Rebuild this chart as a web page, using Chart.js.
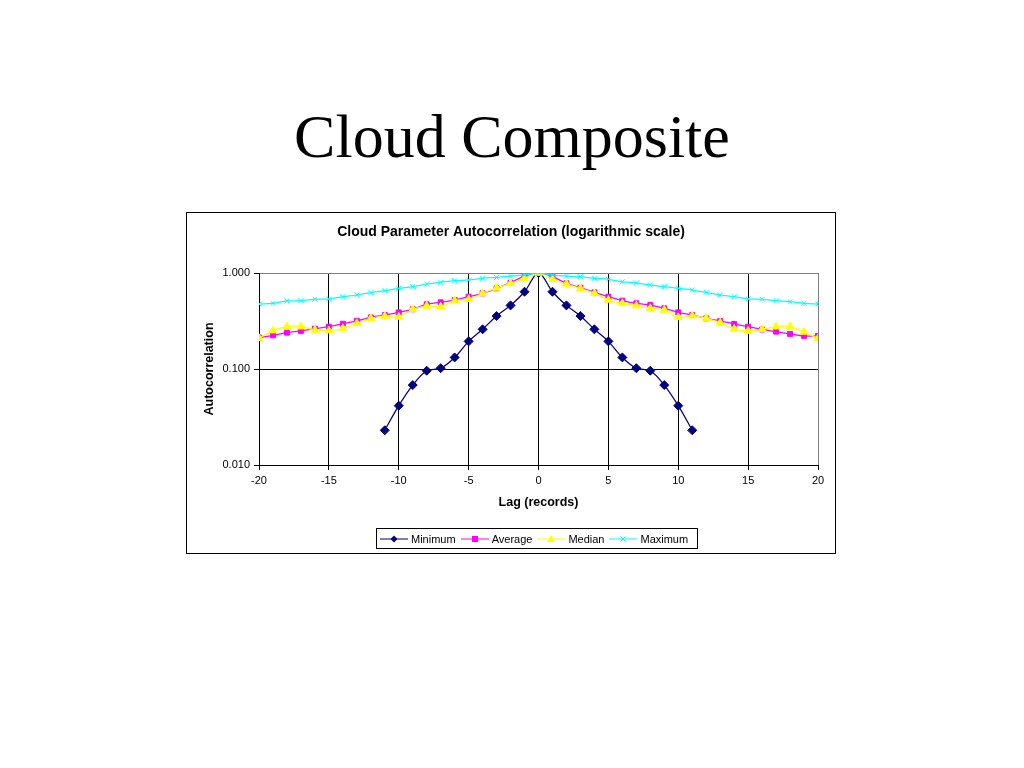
<!DOCTYPE html>
<html>
<head>
<meta charset="utf-8">
<script src="https://cdn.jsdelivr.net/npm/chart.js@4.4.1/dist/chart.umd.min.js"></script>
<style>
  body { margin: 0; background: #fff; width: 1024px; height: 768px; position: relative; overflow: hidden; }
  #pageTitle { position: absolute; left: 0; top: 105px; width: 1024px; text-align: center;
    font-family: "Liberation Serif", "Times New Roman", serif; font-size: 62px; line-height: 62px; color: #000; }
  #chartBox { position: absolute; left: 186px; top: 212px; width: 648px; height: 340px; border: 1px solid #000; background: #fff; }
  #chartBox canvas { position: absolute; left: 0; top: 0; }
  #legend { position: absolute; left: 189px; top: 315px; width: 320px; height: 19px; border: 1px solid #000;
    font-family: "Liberation Sans", Arial, sans-serif; font-size: 11px; display: flex; align-items: center; white-space: nowrap; }
  #legend span.item { display: inline-flex; align-items: center; margin-left: 3px; margin-right: 2px; }
  #legend svg { margin-right: 3px; }
</style>
</head>
<body>
<div id="pageTitle">Cloud Composite</div>
<div id="chartBox">
  <canvas id="acChart" width="648" height="340"></canvas>
  <div id="legend"></div>
</div>
<script>
// lag values (records)
const lags = [-20,-19,-18,-17,-16,-15,-14,-13,-12,-11,-10,-9,-8,-7,-6,-5,-4,-3,-2,-1,0,
  1,2,3,4,5,6,7,8,9,10,11,12,13,14,15,16,17,18,19,20];

const minimum = [null,null,null,null,null,null,null,null,null,0.023,0.0415,0.068,0.096,0.102,0.132,0.194,0.259,0.356,0.46,0.638,1.0,
  0.638,0.46,0.356,0.259,0.194,0.132,0.102,0.096,0.068,0.0415,0.023,null,null,null,null,null,null,null,null,null];

const average = [0.213,0.224,0.239,0.249,0.263,0.276,0.296,0.318,0.345,0.365,0.389,0.419,0.472,0.495,0.523,0.567,0.614,0.692,0.793,0.93,1.0,
  0.916,0.781,0.703,0.629,0.567,0.515,0.483,0.464,0.429,0.389,0.365,0.337,0.316,0.295,0.276,0.258,0.245,0.232,0.221,0.221];

const median = [0.209,0.251,0.276,0.276,0.255,0.251,0.265,0.299,0.337,0.356,0.348,0.419,0.453,0.446,0.515,0.532,0.614,0.698,0.781,0.88,1.0,
  0.86,0.768,0.69,0.614,0.523,0.483,0.457,0.429,0.412,0.345,0.36,0.337,0.304,0.261,0.249,0.26,0.276,0.276,0.243,0.209];

const maximum = [0.475,0.483,0.511,0.515,0.532,0.536,0.567,0.59,0.624,0.654,0.692,0.721,0.768,0.8,0.832,0.846,0.88,0.902,0.93,0.953,1.0,
  0.953,0.93,0.916,0.88,0.86,0.81,0.79,0.75,0.721,0.692,0.665,0.629,0.59,0.567,0.536,0.532,0.515,0.503,0.483,0.475];

const yTicks = [0.01, 0.1, 1];
const xTicks = [-20, -15, -10, -5, 0, 5, 10, 15, 20];

const sans = '"Liberation Sans", Arial, sans-serif';

function toPoints(values) {
    return lags.map((x, i) => ({ x: x, y: values[i] }));
}

const seriesDefs = [
    { label: 'Minimum', values: minimum, color: '#000080', style: 'rectRot', radius: 4.5, order: 3 },
    { label: 'Average', values: average, color: '#FF00FF', style: 'rect', radius: 3.5, order: 2 },
    { label: 'Median', values: median, color: '#FFFF00', style: 'triangle', radius: 4.5, order: 1 },
    { label: 'Maximum', values: maximum, color: '#00FFFF', style: 'crossRot', radius: 3.5, order: 0 }
];

const ctx = document.getElementById('acChart').getContext('2d');
const acChart = new Chart(ctx, {
    type: 'line',
    data: {
        datasets: seriesDefs.map(s => ({
            label: s.label,
            data: toPoints(s.values),
            borderColor: s.color,
            backgroundColor: s.color,
            borderWidth: 1.25,
            pointStyle: s.style,
            pointRadius: s.radius,
            pointBorderWidth: 1,
            pointBorderColor: s.color,
            pointBackgroundColor: s.color,
            tension: 0.35,
            spanGaps: false,
            order: s.order
        }))
    },
    options: {
        responsive: false,
        animation: false,
        layout: { padding: { left: 0, right: 0, top: 0, bottom: 38 } },
        plugins: {
            legend: { display: false },
            tooltip: { enabled: false },
            title: {
                display: true,
                text: 'Cloud Parameter Autocorrelation (logarithmic scale)',
                color: '#000',
                font: { family: sans, size: 14, weight: 'bold' },
                padding: { top: 10.6, bottom: 32.6 }
            }
        },
        scales: {
            x: {
                type: 'linear',
                min: -20,
                max: 20,
                afterBuildTicks: (scale) => { scale.ticks = xTicks.map(v => ({ value: v })); },
                afterFit: (scale) => { scale.height = 50; },
                ticks: {
                    color: '#000',
                    font: { family: sans, size: 11 },
                    padding: 4,
                    maxRotation: 0
                },
                grid: {
                    color: (c) => (c.tick && c.tick.value === 20) ? '#808080' : '#000',
                    tickLength: 5,
                    tickColor: '#000'
                },
                border: { color: '#000' },
                title: {
                    display: true,
                    text: 'Lag (records)',
                    color: '#000',
                    font: { family: sans, size: 12.5, weight: 'bold' },
                    padding: { top: 0, bottom: 4.5 }
                }
            },
            y: {
                type: 'logarithmic',
                min: 0.01,
                max: 1,
                afterBuildTicks: (scale) => { scale.ticks = yTicks.map(v => ({ value: v })); },
                afterFit: (scale) => { scale.width = 72; },
                ticks: {
                    color: '#000',
                    font: { family: sans, size: 11 },
                    padding: 4,
                    callback: (v) => Number(v).toFixed(3)
                },
                grid: {
                    color: (c) => (c.tick && c.tick.value === 1) ? '#808080' : '#000',
                    tickLength: 5,
                    tickColor: '#000'
                },
                border: { color: '#000' },
                title: {
                    display: true,
                    text: 'Autocorrelation',
                    color: '#000',
                    font: { family: sans, size: 12.5, weight: 'bold' },
                    padding: { top: 15.5, bottom: 0 }
                }
            },
            // empty right-hand spacer so the title stays centred on the whole box
            spacer: {
                type: 'linear',
                position: 'right',
                display: true,
                afterFit: (scale) => { scale.width = 17; },
                ticks: { display: false },
                grid: { display: false, drawTicks: false },
                border: { display: false }
            }
        }
    }
});

// HTML legend: line sample with marker, like the spreadsheet legend
function markerSvg(s) {
    const c = s.color;
    let mark = '';
    if (s.style === 'rectRot') mark = `<polygon points="14,1.5 17.5,5 14,8.5 10.5,5" fill="${c}"/>`;
    else if (s.style === 'rect') mark = `<rect x="11" y="2" width="6" height="6" fill="${c}"/>`;
    else if (s.style === 'triangle') mark = `<polygon points="14,1 18,8 10,8" fill="${c}"/>`;
    else mark = `<path d="M11.5 2.5 L16.5 7.5 M16.5 2.5 L11.5 7.5" stroke="${c}" stroke-width="1"/>`;
    return `<svg width="28" height="10"><line x1="0" y1="5" x2="28" y2="5" stroke="${c}" stroke-width="1"/>${mark}</svg>`;
}
document.getElementById('legend').innerHTML = seriesDefs.map(s =>
    `<span class="item">${markerSvg(s)}${s.label}</span>`).join('');
</script>
</body>
</html>
